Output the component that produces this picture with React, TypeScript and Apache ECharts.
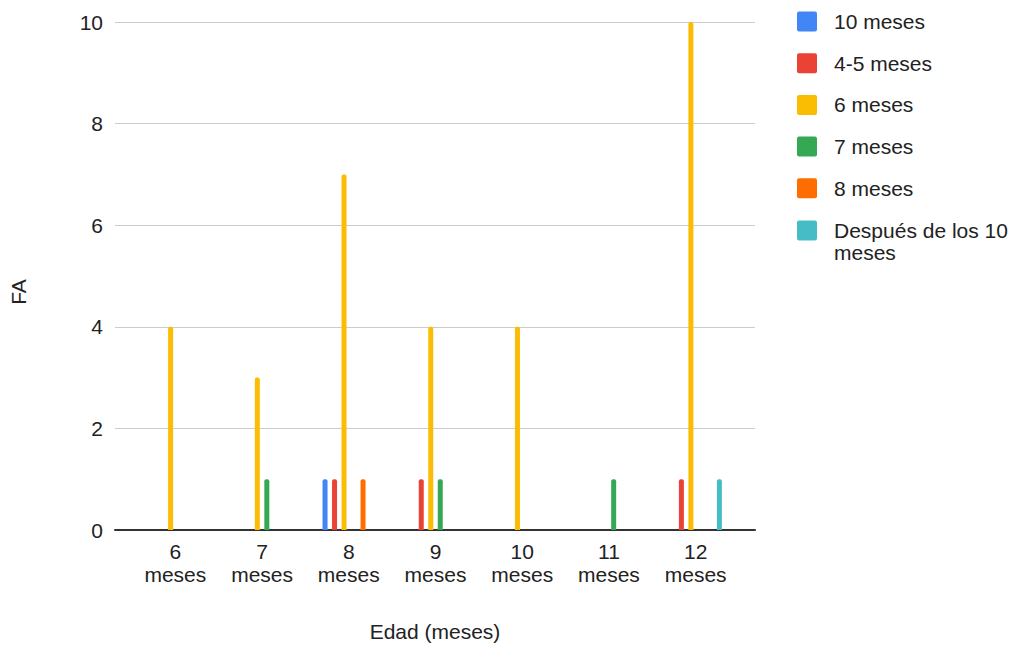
import React, { useEffect, useRef } from "react";
import * as echarts from "echarts";

const categories = ["6\nmeses", "7\nmeses", "8\nmeses", "9\nmeses", "10\nmeses", "11\nmeses", "12\nmeses"];
const seriesNames = ["10 meses", "4-5 meses", "6 meses", "7 meses", "8 meses", "Después de los 10 meses"];
const seriesColors = ["#4285F4", "#EA4335", "#FBBC04", "#34A853", "#FF6D01", "#46BDC6"];
const s10 = [0, 0, 1, 0, 0, 0, 0];
const s45 = [0, 0, 1, 1, 0, 0, 1];
const s6 = [4, 3, 7, 4, 4, 0, 10];
const s7 = [0, 1, 0, 1, 0, 1, 0];
const s8 = [0, 0, 1, 0, 0, 0, 0];
const sDesp = [0, 0, 0, 0, 0, 0, 1];
const seriesValues = [s10, s45, s6, s7, s8, sDesp];
const yTicks = { min: 0, max: 10, interval: 2 };

const FONT = "'Liberation Sans', Arial, sans-serif";

export default function App() {
  const ref = useRef<HTMLDivElement>(null);
  useEffect(() => {
    if (!ref.current) return;
    const chart = echarts.init(ref.current, undefined, { renderer: "svg" });
    const legendText = {
      fontSize: 21,
      color: "#222",
      padding: [0, 0, 0, 12],
      fontFamily: FONT,
    };
    const option: any = {
      animation: false,
      textStyle: { fontFamily: FONT },
      grid: [
        { left: 115, top: 22, width: 640, height: 508 },
        { left: 132, top: 22, width: 607, height: 508 },
      ],
      xAxis: [
        {
          gridIndex: 0,
          type: "value",
          min: 0,
          max: 1,
          axisLine: { show: true, lineStyle: { color: "#333", width: 2 } },
          axisTick: { show: false },
          axisLabel: { show: false },
          splitLine: { show: false },
        },
        {
          gridIndex: 1,
          type: "category",
          data: categories,
          axisLine: { show: false },
          axisTick: { show: false },
          axisLabel: {
            color: "#222",
            fontSize: 21,
            lineHeight: 23,
            margin: 10,
            fontFamily: FONT,
            interval: 0,
          },
        },
      ],
      yAxis: [
        {
          gridIndex: 0,
          type: "value",
          min: yTicks.min,
          max: yTicks.max,
          interval: yTicks.interval,
          axisLine: { show: false },
          axisTick: { show: false },
          axisLabel: { color: "#222", fontSize: 21, margin: 12, fontFamily: FONT },
          splitLine: { lineStyle: { color: "#cccccc", width: 1 } },
        },
        {
          gridIndex: 1,
          type: "value",
          min: yTicks.min,
          max: yTicks.max,
          show: false,
          splitLine: { show: false },
        },
      ],
      legend: [
        {
          orient: "vertical",
          left: 797,
          top: 11,
          padding: 0,
          itemWidth: 20,
          itemHeight: 20,
          itemGap: 20.7,
          icon: "path://M2,0h16a2,2 0 0 1 2,2v16a2,2 0 0 1 -2,2h-16a2,2 0 0 1 -2,-2v-16a2,2 0 0 1 2,-2z",
          data: seriesNames.slice(0, 5),
          textStyle: { ...legendText, lineHeight: 20 },
          selectedMode: false,
        },
        {
          orient: "vertical",
          left: 797,
          top: 220,
          padding: 0,
          itemWidth: 20,
          itemHeight: 42,
          icon: "path://M2,0h16a2,2 0 0 1 2,2v16a2,2 0 0 1 -2,2h-16a2,2 0 0 1 -2,-2v-16a2,2 0 0 1 2,-2zM0,41.95h0.05v0.05h-0.05z",
          data: seriesNames.slice(5),
          formatter: () => "Después de los 10\nmeses",
          textStyle: { ...legendText, lineHeight: 21.5 },
          selectedMode: false,
        },
      ],
      graphic: [
        {
          type: "text",
          x: 435,
          y: 631,
          style: {
            text: "Edad (meses)",
            fontSize: 21,
            fill: "#222",
            fontFamily: FONT,
            align: "center",
            verticalAlign: "middle",
          },
        },
        {
          type: "text",
          x: 18.5,
          y: 292,
          rotation: Math.PI / 2,
          style: {
            text: "FA",
            fontSize: 21,
            fill: "#222",
            fontFamily: FONT,
            align: "center",
            verticalAlign: "middle",
          },
        },
      ],
      series: seriesNames.map((name, i) => ({
        name,
        type: "bar",
        xAxisIndex: 1,
        yAxisIndex: 1,
        data: seriesValues[i],
        barWidth: 5,
        barGap: "90%",
        itemStyle: { color: seriesColors[i], borderRadius: [2, 2, 0, 0] },
      })),
    };
    chart.setOption(option);
    return () => chart.dispose();
  }, []);
  return (
    <div
      ref={ref}
      style={{ position: "fixed", left: 0, top: 0, width: 1027, height: 646, background: "#fff" }}
    />
  );
}
